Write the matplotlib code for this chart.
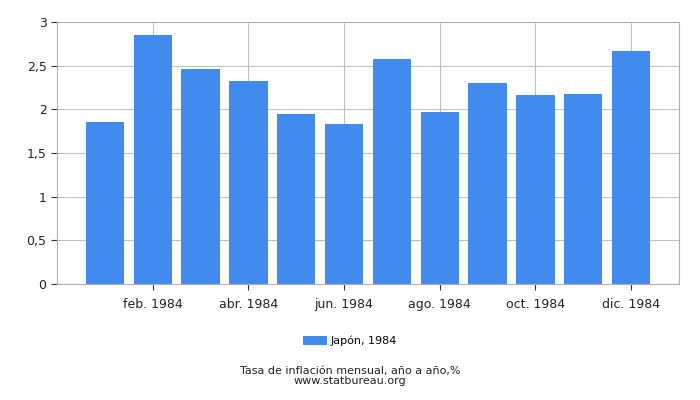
import matplotlib
matplotlib.use('Agg')
import matplotlib.pyplot as plt
from matplotlib.ticker import FuncFormatter

months = ['ene. 1984', 'feb. 1984', 'mar. 1984', 'abr. 1984', 'may. 1984', 'jun. 1984',
          'jul. 1984', 'ago. 1984', 'sep. 1984', 'oct. 1984', 'nov. 1984', 'dic. 1984']
values = [1.86, 2.85, 2.46, 2.33, 1.95, 1.83, 2.58, 1.97, 2.30, 2.16, 2.18, 2.67]
series_label = 'Japón, 1984'
bar_color = '#418bef'

fig = plt.figure(figsize=(7, 4), dpi=100)
ax = fig.add_axes([57 / 700, 1 - 284 / 400, 622 / 700, 262 / 400])

x = list(range(len(months)))
ax.bar(x, values, width=0.8, color=bar_color, label=series_label, zorder=2)

ax.set_xlim(-1, 12)
ax.set_ylim(0, 3)
ax.set_yticks([0, 0.5, 1, 1.5, 2, 2.5, 3])
ax.yaxis.set_major_formatter(FuncFormatter(lambda v, p: ('%g' % v).replace('.', ',')))
ax.set_xticks(x[1::2])
ax.set_xticklabels(months[1::2])

ax.grid(True, color='#c0c0c0', linewidth=0.8, zorder=0)
for s in ax.spines.values():
    s.set_color('#b0b0b0')
ax.tick_params(axis='both', labelsize=9, color='#333333', length=4, colors='#222222')
ax.tick_params(axis='x', pad=6)

fig.legend(loc='center', bbox_to_anchor=(0.5, 1 - 341 / 400), frameon=False,
           fontsize=8, handlelength=2.2, handleheight=0.8, handletextpad=0.3)
fig.text(0.5, 1 - 371 / 400, 'Tasa de inflación mensual, año a año,%', ha='center', va='center',
         fontsize=8, color='#222222')
fig.text(0.5, 1 - 381 / 400, 'www.statbureau.org', ha='center', va='center',
         fontsize=8, color='#222222')

fig.savefig('out.png', dpi=100)
